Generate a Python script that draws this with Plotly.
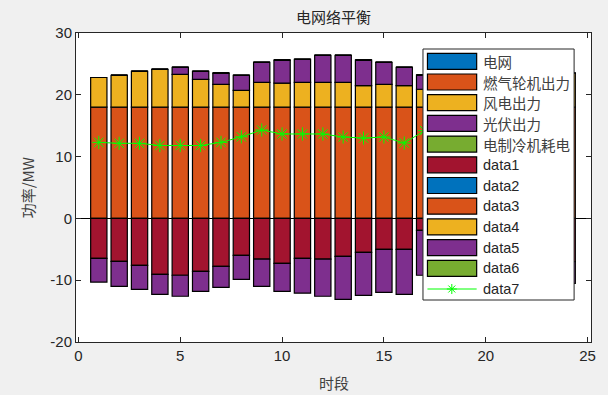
import plotly.graph_objects as go

hours = list(range(1, 25))

# positive stack
grid = [0] * 24
gas = [18] * 24
wind = [4.8, 5.15, 5.8, 6.1, 5.3, 4.5, 3.7, 2.7, 4.0, 3.9, 4.0, 4.0,
        4.0, 3.5, 3.7, 3.5, 2.9, 3.5, 4.0, 4.5, 5.0, 5.3, 5.5, 5.5]
pv = [0, 0, 0, 0, 1.15, 1.3, 1.8, 2.45, 3.26, 3.7, 3.75, 4.4,
      4.4, 4.1, 3.55, 2.95, 2.3, 1.5, 0.8, 0, 0, 0, 0, 0]
chiller = [0] * 24

# negative stack
data1 = [-6.46, -6.95, -7.6, -9.05, -9.2, -8.56, -7.75, -5.97, -6.6, -7.27, -6.46, -6.6,
         -6.13, -5.5, -5.0, -5.0, -1.93, -2.5, -3.5, -4.5, -5.5, -6.0, -6.5, -7.0]
data2 = [0] * 24
data3 = [0] * 24
data4 = [0] * 24
data5 = [-3.84, -4.05, -3.9, -3.25, -3.4, -3.24, -3.4, -3.89, -4.4, -4.53, -5.64, -6.0,
         -6.97, -6.95, -6.96, -7.3, -7.27, -7.0, -6.5, -6.0, -5.0, -4.5, -4.0, -3.5]
data6 = [0] * 24

# line
data7 = [12.3, 12.15, 12.15, 11.8, 11.8, 11.8, 12.3, 13.2, 14.3, 13.66, 13.66, 13.66,
         13.17, 13.0, 13.17, 12.2, 14.2, 14.0, 13.5, 13.0, 12.5, 12.5, 12.2, 12.0]

x_ticks = [0, 5, 10, 15, 20, 25]
y_ticks = [-20, -10, 0, 10, 20, 30]
y_ticktext = ["-20", "-10", "0", "10", "20", "30"]

BLUE = "#0072BD"
ORANGE = "#D95319"
YELLOW = "#EDB120"
PURPLE = "#7E2F8E"
GREEN = "#77AC30"
RED = "#A2142F"

bar_series = [
    ("电网", grid, BLUE),
    ("燃气轮机出力", gas, ORANGE),
    ("风电出力", wind, YELLOW),
    ("光伏出力", pv, PURPLE),
    ("电制冷机耗电", chiller, GREEN),
    ("data1", data1, RED),
    ("data2", data2, BLUE),
    ("data3", data3, ORANGE),
    ("data4", data4, YELLOW),
    ("data5", data5, PURPLE),
    ("data6", data6, GREEN),
]

fig = go.Figure()
for name, vals, col in bar_series:
    fig.add_trace(go.Bar(x=hours, y=vals, name=name, width=0.8,
                         marker=dict(color=col, line=dict(color="#000000", width=1.2)),
                         showlegend=False))

fig.add_trace(go.Scatter(x=hours, y=data7, name="data7", mode="lines+markers",
                         line=dict(color="#00FF00", width=1),
                         marker=dict(symbol="asterisk-open", size=11,
                                     line=dict(color="#00FF00", width=1)),
                         showlegend=False))

W, H = 608, 395
L, R, T, B = 76, 14, 33, 53
PW, PH = W - L - R, H - T - B


def px(xp):
    return (xp - L) / PW


def py(yp):
    return (H - B - yp) / PH


shapes = []
annotations = []

# custom legend box
shapes.append(dict(type="rect", xref="paper", yref="paper", layer="above",
                   x0=px(425), x1=px(577), y0=py(300), y1=py(49),
                   fillcolor="white", line=dict(color="#262626", width=1)))

legend_items = [(n, c) for n, _, c in bar_series] + [("data7", None)]
row0, dy = 61.3, 20.7
for i, (name, col) in enumerate(legend_items):
    yc = row0 + i * dy
    if col is not None:
        shapes.append(dict(type="rect", xref="paper", yref="paper", layer="above",
                           x0=px(429.5), x1=px(479), y0=py(yc + 8), y1=py(yc - 8),
                           fillcolor=col, line=dict(color="#000000", width=1.2)))
    else:
        shapes.append(dict(type="line", xref="paper", yref="paper", layer="above",
                           x0=px(429.5), x1=px(479), y0=py(yc), y1=py(yc),
                           line=dict(color="#00FF00", width=1)))
        cx, r = 454, 5
        for dxx, dyy in [(r, 0), (0, r), (r * 0.7, r * 0.7), (r * 0.7, -r * 0.7)]:
            shapes.append(dict(type="line", xref="paper", yref="paper", layer="above",
                               x0=px(cx - dxx), x1=px(cx + dxx),
                               y0=py(yc - dyy), y1=py(yc + dyy),
                               line=dict(color="#00FF00", width=1)))
    is_cjk = not name.startswith("data")
    annotations.append(dict(xref="paper", yref="paper", x=px(483), y=py(yc),
                            xanchor="left", yanchor="middle", showarrow=False,
                            text=name,
                            font=dict(family="Noto Sans CJK SC" if is_cjk else "Liberation Sans, Arial",
                                      size=14.5, color="#404040" if is_cjk else "#262626")))

# title and axis labels
annotations.append(dict(xref="paper", yref="paper", x=0.5, y=py(17), xanchor="center",
                        yanchor="middle", showarrow=False, text="电网络平衡",
                        font=dict(family="Noto Sans CJK SC", size=15, color="#262626")))
annotations.append(dict(xref="paper", yref="paper", x=0.5, y=py(382), xanchor="center",
                        yanchor="middle", showarrow=False, text="时段",
                        font=dict(family="Noto Sans CJK SC", size=15, color="#404040")))
annotations.append(dict(xref="paper", yref="paper", x=px(28), y=py(188), xanchor="center",
                        yanchor="middle", showarrow=False, text="功率/MW", textangle=-90,
                        font=dict(family="Noto Sans CJK SC, Liberation Sans", size=15, color="#404040")))

axis_common = dict(showgrid=False, ticks="inside", ticklen=5, tickcolor="#262626",
                   linecolor="#262626", linewidth=1, mirror="ticks", showline=True,
                   tickfont=dict(family="Liberation Sans, Arial", size=15, color="#262626"))

fig.update_layout(
    width=W, height=H,
    margin=dict(l=L, r=R, t=T, b=B),
    paper_bgcolor="#F0F0F0",
    plot_bgcolor="white",
    barmode="relative",
    bargap=0.2,
    showlegend=False,
    hovermode=False,
    shapes=shapes,
    annotations=annotations,
    xaxis=dict(range=[-0.12, 25.17], tickvals=x_ticks, zeroline=False,
               **axis_common),
    yaxis=dict(range=[-20, 30], tickvals=y_ticks, ticktext=y_ticktext, zeroline=True,
               zerolinecolor="#000000", zerolinewidth=1, **axis_common),
)

fig.write_html("out.html", config={"displayModeBar": False},
               post_script="document.body.style.margin='0';document.body.style.background='#F0F0F0';")
